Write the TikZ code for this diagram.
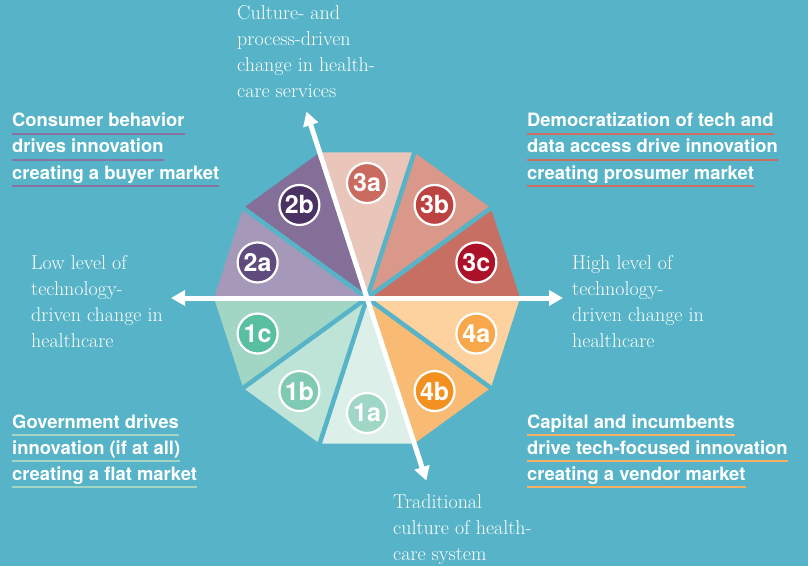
\documentclass[tikz,border=0pt]{standalone}
\usepackage{fontspec}
\newfontfamily\heros{TeX Gyre Heros}
\usetikzlibrary{arrows.meta}

\definecolor{bg}{HTML}{57B4C8}
\definecolor{w3a}{HTML}{E9C6B9}\definecolor{c3a}{HTML}{C96B5E}
\definecolor{w3b}{HTML}{D9988A}\definecolor{c3b}{HTML}{BD4343}
\definecolor{w3c}{HTML}{C76F62}\definecolor{c3c}{HTML}{AD1128}
\definecolor{w4a}{HTML}{FDD29F}\definecolor{c4a}{HTML}{F8A84B}
\definecolor{w4b}{HTML}{F9BB74}\definecolor{c4b}{HTML}{F2911F}
\definecolor{w1a}{HTML}{DCEFE9}\definecolor{c1a}{HTML}{A0D6C6}
\definecolor{w1b}{HTML}{BEE3D7}\definecolor{c1b}{HTML}{80CAB3}
\definecolor{w1c}{HTML}{A1D5C4}\definecolor{c1c}{HTML}{59BFA1}
\definecolor{w2a}{HTML}{A698B8}\definecolor{c2a}{HTML}{5F4B7E}
\definecolor{w2b}{HTML}{836F98}\definecolor{c2b}{HTML}{4B3264}
\definecolor{ulpurple}{HTML}{8B739F}
\definecolor{ulsalmon}{HTML}{CB6E62}
\definecolor{ulgreen}{HTML}{A3D5C5}
\definecolor{ulorange}{HTML}{F5B064}

\begin{document}
\begin{tikzpicture}[x=1pt, y=1pt,
  corner/.style={anchor=base west, inner sep=0pt, text=white,
    font=\heros\bfseries\fontsize{18.4}{22}\selectfont},
  axislabel/.style={anchor=base west, inner sep=0pt, align=left, text=white,
    font=\fontsize{20}{26}\selectfont},
  badge/.style={circle, fill=#1, draw=white, line width=2.2pt, minimum size=40pt,
    inner sep=0pt, text=white, font=\heros\bfseries\fontsize{25}{25}\selectfont},
  gap/.style={draw=bg, line width=4.5pt},
  axis/.style={draw=white, line width=5pt,
    {Triangle[length=14pt,width=15pt]}-{Triangle[length=14pt,width=15pt]}},
  uline/.style={draw=#1, line width=2.2pt}]
\useasboundingbox (0,0) rectangle (808,566);
\fill[bg] (0,0) rectangle (808,566);

% the decagon, ten wedges with their badges
\begin{scope}[shift={(367,268)}]
\foreach \a/\w in {0/3c, 36/3b, 72/3a, 108/2b, 144/2a, 180/1c, 216/1b, 252/1a, 288/4b, 324/4a}
  \fill[w\w] (0,0) -- (\a:153) -- (\a+36:153) -- cycle;
\foreach \a in {0,36,...,324}
  \draw[gap] (0,0) -- (\a:158);
\foreach \a/\w in {0/3c, 36/3b, 72/3a, 108/2b, 144/2a, 180/1c, 216/1b, 252/1a, 288/4b, 324/4a}
  \draw (\a+18:115) node (n\w) [badge=c\w] {\w};

% axes
\coordinate (west) at (180:196);
\coordinate (east) at (0:196);
\coordinate (north) at (108:196);
\coordinate (south) at (288:192);
\draw[axis] (west) -- (east);
\draw[axis] (north) -- (south);
\end{scope}

% axis labels (anchored at the last line)
\draw (237,468) node (top) [axislabel] {Culture- and\\process-driven\\change in health-\\care services};
\draw (31,219)  node (left) [axislabel] {Low level of\\technology-\\driven change in\\healthcare};
\draw (572,219) node (right) [axislabel] {High level of\\technology-\\driven change in\\healthcare};
\draw (393,6)   node (bottom) [axislabel] {Traditional\\culture of health-\\care system};

% quadrant texts
\draw (12,439)  node (tl1) [corner] {Consumer behavior};
\draw (12,413)  node (tl2) [corner] {drives innovation};
\draw (12,387)  node (tl3) [corner] {creating a buyer market};
\draw (527,439) node (tr1) [corner] {Democratization of tech and};
\draw (527,413) node (tr2) [corner] {data access drive innovation};
\draw (527,387) node (tr3) [corner] {creating prosumer market};
\draw (12,138)  node (bl1) [corner] {Government drives};
\draw (12,112)  node (bl2) [corner] {innovation (if at all)};
\draw (12,86)   node (bl3) [corner] {creating a flat market};
\draw (527,138) node (br1) [corner] {Capital and incumbents};
\draw (527,112) node (br2) [corner] {drive tech-focused innovation};
\draw (527,86)  node (br3) [corner] {creating a vendor market};

\foreach \n/\c in {tl1/ulpurple, tl2/ulpurple, tl3/ulpurple, tr1/ulsalmon, tr2/ulsalmon, tr3/ulsalmon,
                   bl1/ulgreen, bl2/ulgreen, bl3/ulgreen, br1/ulorange, br2/ulorange, br3/ulorange}
  \draw[uline=\c] ([yshift=-7pt]\n.base west) -- ([yshift=-7pt]\n.base east);
\end{tikzpicture}
\end{document}
